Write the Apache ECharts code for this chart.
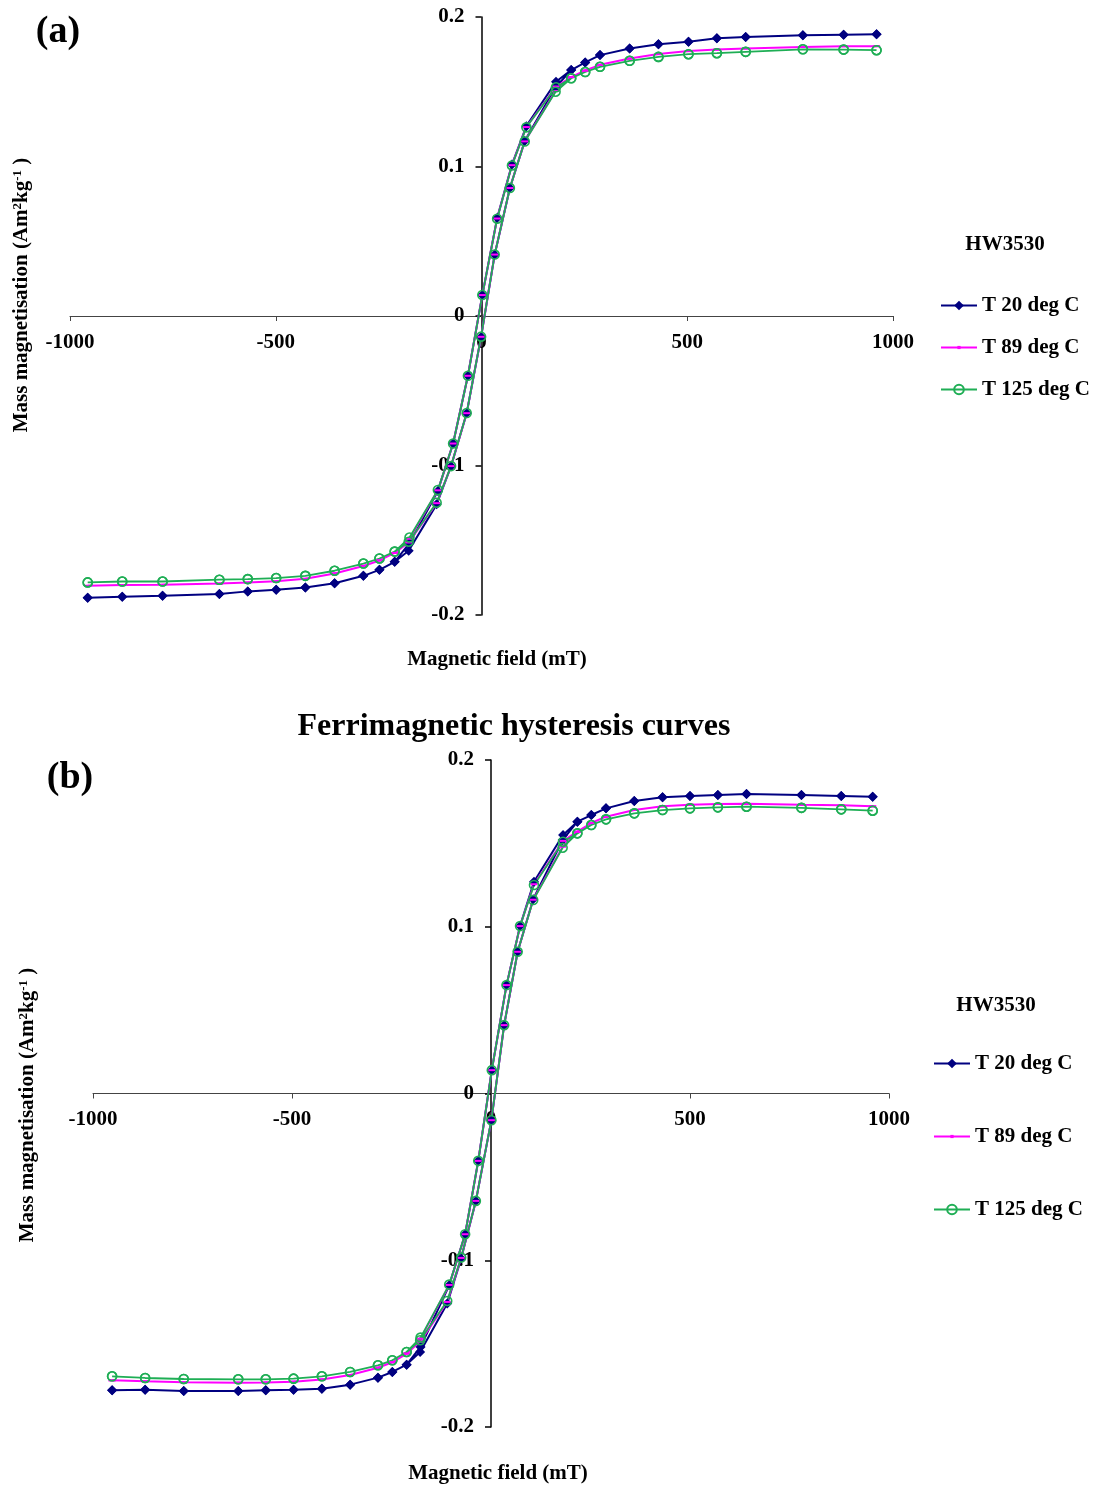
<!DOCTYPE html>
<html>
<head>
<meta charset="utf-8">
<script src="https://cdn.jsdelivr.net/npm/echarts@6/dist/echarts.min.js"></script>
<style>
  html, body { margin: 0; padding: 0; background: #fff; }
  #main { width: 1094px; height: 1488px; }
</style>
</head>
<body>
<div id="main"></div>
<script>
// legend names
var seriesNames = ['T 20 deg C', 'T 89 deg C', 'T 125 deg C'];

// (a) field steps, mT: descending branch then ascending branch
var fieldDownA = [960, 880, 781, 642, 572, 503, 430, 360, 288, 252, 218, 181, 109, 74, 38, 2, -33, -69, -106, -175, -211, -248, -287, -357, -428, -499, -568, -637, -775, -873, -957];
var fieldUpA = [-957, -873, -775, -637, -568, -499, -428, -357, -287, -248, -211, -177, -109, -74, -36, -1, 32, 69, 105, 180, 218, 252, 288, 360, 430, 503, 572, 642, 781, 880, 960];

var navyDownA = [0.1885, 0.1882, 0.1878, 0.1867, 0.1858, 0.1835, 0.1818, 0.1789, 0.1745, 0.1696, 0.1645, 0.1567, 0.1270, 0.1013, 0.0655, 0.0140, -0.0400, -0.0853, -0.1170, -0.1520, -0.1644, -0.1698, -0.1738, -0.1787, -0.1816, -0.1831, -0.1842, -0.1860, -0.1871, -0.1878, -0.1885];
var navyUpA = [-0.1885, -0.1878, -0.1871, -0.1860, -0.1842, -0.1831, -0.1816, -0.1787, -0.1738, -0.1698, -0.1644, -0.1570, -0.1260, -0.1005, -0.0650, -0.0140, 0.0410, 0.0856, 0.1170, 0.1530, 0.1645, 0.1696, 0.1745, 0.1789, 0.1818, 0.1835, 0.1858, 0.1867, 0.1878, 0.1882, 0.1885];
var pinkDownA = [0.1805, 0.1805, 0.1800, 0.1790, 0.1782, 0.1772, 0.1752, 0.1722, 0.1680, 0.1642, 0.1598, 0.1535, 0.1264, 0.1009, 0.0652, 0.0140, -0.0400, -0.0853, -0.1166, -0.1490, -0.1585, -0.1635, -0.1672, -0.1722, -0.1758, -0.1775, -0.1783, -0.1790, -0.1798, -0.1800, -0.1805];
var pinkUpA = [-0.1805, -0.1800, -0.1798, -0.1790, -0.1783, -0.1775, -0.1758, -0.1722, -0.1672, -0.1635, -0.1585, -0.1515, -0.1252, -0.1004, -0.0650, -0.0139, 0.0411, 0.0856, 0.1168, 0.1505, 0.1598, 0.1642, 0.1680, 0.1722, 0.1752, 0.1772, 0.1782, 0.1790, 0.1800, 0.1805, 0.1805];
var greenDownA = [0.1778, 0.1782, 0.1784, 0.1767, 0.1758, 0.1751, 0.1733, 0.1707, 0.1667, 0.1632, 0.1590, 0.1530, 0.1262, 0.1007, 0.0651, 0.0140, -0.0400, -0.0853, -0.1164, -0.1482, -0.1576, -0.1622, -0.1656, -0.1704, -0.1738, -0.1753, -0.1760, -0.1764, -0.1776, -0.1776, -0.1782];
var greenUpA = [-0.1782, -0.1776, -0.1776, -0.1764, -0.1760, -0.1753, -0.1738, -0.1704, -0.1656, -0.1622, -0.1576, -0.1510, -0.1249, -0.1004, -0.0649, -0.0138, 0.0411, 0.0856, 0.1167, 0.1500, 0.1590, 0.1632, 0.1667, 0.1707, 0.1733, 0.1751, 0.1758, 0.1767, 0.1784, 0.1782, 0.1778];

// (b)
var fieldDownB = [959, 880, 780, 642, 570, 500, 431, 360, 289, 252, 217, 181, 108, 73, 39, 2, -32, -65, -105, -177, -212, -248, -284, -354, -425, -496, -566, -635, -772, -869, -952];
var fieldUpB = [-952, -869, -772, -635, -566, -496, -425, -354, -284, -248, -212, -178, -110, -75, -38, 1, 33, 67, 106, 180, 217, 252, 289, 360, 431, 500, 570, 642, 780, 880, 959];

var navyDownB = [0.1779, 0.1784, 0.1790, 0.1796, 0.1790, 0.1784, 0.1776, 0.1754, 0.1710, 0.1670, 0.1630, 0.1550, 0.1270, 0.1004, 0.0650, 0.0140, -0.0404, -0.0844, -0.1150, -0.1520, -0.1626, -0.1670, -0.1704, -0.1746, -0.1770, -0.1776, -0.1780, -0.1784, -0.1784, -0.1776, -0.1780];
var navyUpB = [-0.1780, -0.1776, -0.1784, -0.1784, -0.1780, -0.1776, -0.1770, -0.1746, -0.1704, -0.1670, -0.1626, -0.1550, -0.1260, -0.0990, -0.0644, -0.0160, 0.0410, 0.0850, 0.1165, 0.1520, 0.1630, 0.1670, 0.1710, 0.1754, 0.1776, 0.1784, 0.1790, 0.1796, 0.1790, 0.1784, 0.1779];
var pinkDownB = [0.1722, 0.1728, 0.1732, 0.1738, 0.1736, 0.1732, 0.1722, 0.1700, 0.1660, 0.1622, 0.1570, 0.1515, 0.1255, 0.1004, 0.0650, 0.0140, -0.0404, -0.0844, -0.1148, -0.1470, -0.1560, -0.1612, -0.1645, -0.1688, -0.1715, -0.1728, -0.1733, -0.1734, -0.1732, -0.1726, -0.1720];
var pinkUpB = [-0.1720, -0.1726, -0.1732, -0.1734, -0.1733, -0.1728, -0.1715, -0.1688, -0.1645, -0.1612, -0.1560, -0.1488, -0.1250, -0.0986, -0.0644, -0.0160, 0.0410, 0.0850, 0.1162, 0.1480, 0.1570, 0.1622, 0.1660, 0.1700, 0.1722, 0.1732, 0.1736, 0.1738, 0.1732, 0.1728, 0.1722];
var greenDownB = [0.1696, 0.1704, 0.1713, 0.1720, 0.1716, 0.1710, 0.1700, 0.1680, 0.1644, 0.1610, 0.1560, 0.1510, 0.1250, 0.1004, 0.0650, 0.0140, -0.0404, -0.0844, -0.1146, -0.1464, -0.1550, -0.1600, -0.1630, -0.1670, -0.1696, -0.1710, -0.1714, -0.1714, -0.1712, -0.1706, -0.1696];
var greenUpB = [-0.1696, -0.1706, -0.1712, -0.1714, -0.1714, -0.1710, -0.1696, -0.1670, -0.1630, -0.1600, -0.1550, -0.1480, -0.1244, -0.0984, -0.0644, -0.0160, 0.0410, 0.0850, 0.1160, 0.1474, 0.1560, 0.1610, 0.1644, 0.1680, 0.1700, 0.1710, 0.1716, 0.1720, 0.1713, 0.1704, 0.1696];

var FONT = '"Liberation Serif", "Times New Roman", serif';
var NAVY = '#000080', PINK = '#ff00ff', GREEN = '#1fae55';

// join the two branches into one loop
function loop(fd, md, fu, mu) {
    var pts = fd.map(function (f, i) { return [f, md[i]]; });
    return pts.concat(fu.map(function (f, i) { return [f, mu[i]]; }));
}

function plain(v) { return String(Math.round(v * 1000) / 1000); }

// axes cross at zero: shift them in from the grid edge with offset
function xAxisFor(idx, offset) {
    return {
        gridIndex: idx, type: 'value', min: -1000, max: 1000, interval: 500,
        position: 'bottom', offset: offset,
        axisLine: { onZero: false, lineStyle: { color: '#444', width: 1 } },
        axisTick: { show: true, length: 5, lineStyle: { color: '#444' } },
        axisLabel: { margin: 16, color: '#000', fontFamily: FONT, fontWeight: 'bold', fontSize: 21, formatter: plain },
        splitLine: { show: false }
    };
}
function yAxisFor(idx, offset) {
    return {
        gridIndex: idx, type: 'value', min: -0.2, max: 0.2, interval: 0.1,
        position: 'left', offset: offset,
        axisLine: { onZero: false, lineStyle: { color: '#000', width: 1.5 } },
        axisTick: { show: true, length: 6, lineStyle: { color: '#000', width: 1.5 } },
        axisLabel: { margin: 17, color: '#000', fontFamily: FONT, fontWeight: 'bold', fontSize: 21, formatter: plain },
        splitLine: { show: false }
    };
}

function seriesFor(idx, navy, pink, green) {
    return [
        {
            name: seriesNames[0], type: 'line', xAxisIndex: idx, yAxisIndex: idx,
            data: navy, symbol: 'diamond', symbolSize: 10,
            lineStyle: { color: NAVY, width: 2 }, itemStyle: { color: NAVY }
        },
        {
            name: seriesNames[1], type: 'line', xAxisIndex: idx, yAxisIndex: idx,
            data: pink, symbol: 'rect', symbolSize: [7, 2],
            lineStyle: { color: PINK, width: 2 }, itemStyle: { color: PINK }
        },
        {
            name: seriesNames[2], type: 'line', xAxisIndex: idx, yAxisIndex: idx,
            data: green, symbol: 'circle', symbolSize: 9,
            lineStyle: { color: GREEN, width: 1.8 },
            itemStyle: { color: 'rgba(255,255,255,0)', borderColor: GREEN, borderWidth: 1.6 }
        }
    ];
}

// one legend per entry so each row sits where the reference has it
function legendItem(name, left, centerY, h) {
    return {
        orient: 'vertical', left: left, top: centerY - 11, padding: 0,
        itemWidth: 36, itemHeight: h, itemGap: 4,
        textStyle: { color: '#000', fontFamily: FONT, fontWeight: 'bold', fontSize: 21 },
        data: [name]
    };
}
function legendsFor(left, ys) {
    return [
        legendItem(seriesNames[0], left, ys[0], 12),
        legendItem(seriesNames[1], left, ys[1], 4),
        legendItem(seriesNames[2], left, ys[2], 12)
    ];
}

function label(txt, x, y, size, rot) {
    return {
        type: 'text', x: x, y: y, rotation: rot || 0,
        style: {
            text: txt, fill: '#000', fontFamily: FONT, fontWeight: 'bold', fontSize: size,
            align: 'center', verticalAlign: 'middle'
        }
    };
}

function yName(x, y) {
    return {
        type: 'text', x: x, y: y, rotation: Math.PI / 2,
        style: {
            text: '{n|Mass magnetisation (Am}{s|2}{n|kg}{s|-1}{n| )}',
            align: 'center', verticalAlign: 'middle',
            rich: {
                n: { fill: '#000', fontFamily: FONT, fontWeight: 'bold', fontSize: 21, verticalAlign: 'bottom' },
                s: { fill: '#000', fontFamily: FONT, fontWeight: 'bold', fontSize: 13, verticalAlign: 'top' }
            }
        }
    };
}

var chart = echarts.init(document.getElementById('main'));
chart.setOption({
    animation: false,
    backgroundColor: '#fff',
    grid: [
        { left: 70, top: 17, width: 823, height: 598 },
        { left: 93, top: 760, width: 796, height: 667 }
    ],
    // offsets put the axis lines through x = 0 and y = 0
    xAxis: [xAxisFor(0, -299), xAxisFor(1, -333.5)],
    yAxis: [yAxisFor(0, -411.5), yAxisFor(1, -398)],
    legend: legendsFor(940, [306, 348, 390]).concat(legendsFor(933, [1064, 1137, 1210])),
    series: seriesFor(0,
            loop(fieldDownA, navyDownA, fieldUpA, navyUpA),
            loop(fieldDownA, pinkDownA, fieldUpA, pinkUpA),
            loop(fieldDownA, greenDownA, fieldUpA, greenUpA))
        .concat(seriesFor(1,
            loop(fieldDownB, navyDownB, fieldUpB, navyUpB),
            loop(fieldDownB, pinkDownB, fieldUpB, pinkUpB),
            loop(fieldDownB, greenDownB, fieldUpB, greenUpB))),
    graphic: [
        label('(a)', 58, 32, 38),
        label('(b)', 70, 778, 38),
        label('Ferrimagnetic hysteresis curves', 514, 727, 32),
        label('HW3530', 1005, 245, 21),
        label('HW3530', 996, 1006, 21),
        label('Magnetic field (mT)', 497, 660, 21),
        label('Magnetic field (mT)', 498, 1474, 21),
        yName(22, 295),
        yName(28, 1105)
    ]
});
</script>
</body>
</html>
